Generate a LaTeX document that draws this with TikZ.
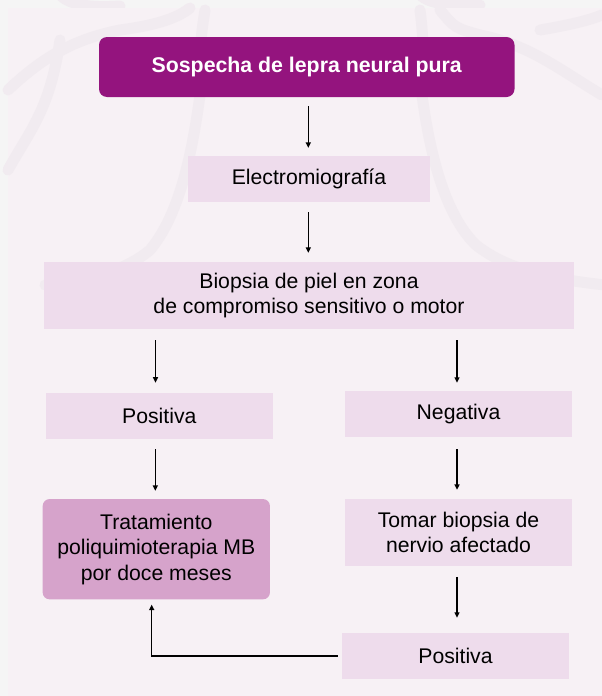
\documentclass[tikz,border=0pt]{standalone}
\usepackage{fontspec}
\setmainfont{Liberation Sans}
\usetikzlibrary{arrows.meta,calc}
\definecolor{outerbg}{RGB}{245,245,245}
\definecolor{panelbg}{RGB}{247,241,245}
\definecolor{wmark}{RGB}{241,235,240}
\definecolor{topfill}{RGB}{148,20,126}
\definecolor{lightbox}{RGB}{238,220,236}
\definecolor{tratfill}{RGB}{214,163,203}
\tikzset{
  stepbox/.style={rectangle, fill=lightbox, inner sep=0pt, align=center,
    font=\fontsize{21.2}{24.5}\selectfont, text=black},
  topbox/.style={rectangle, rounded corners=8pt, fill=topfill, inner sep=0pt,
    align=center, font=\fontsize{21.3}{25}\selectfont\bfseries, text=white},
  tratbox/.style={rectangle, rounded corners=7pt, fill=tratfill, inner sep=0pt,
    align=center, font=\fontsize{21.2}{25.5}\selectfont, text=black},
  arr/.style={line width=1.3pt, draw=black,
    -{Triangle[length=5.5pt,width=5pt]}},
  wm/.style={draw=wmark, line width=11pt, line cap=round}
}
\begin{document}
\begin{tikzpicture}[x=1pt,y=-1pt]
\useasboundingbox (0,0) rectangle (602,696);
\fill[outerbg] (0,0) rectangle (602,696);
% faint watermark outside panel
\draw[wm] (60,-5) .. controls (70,5) and (90,8) .. (120,6);
\draw[wm] (420,-5) .. controls (430,4) and (450,6) .. (480,5);
\fill[panelbg] (8,8) rectangle (602,696);
% faint watermark (stylised tree)
\begin{scope}
\clip (0,0) rectangle (602,696);
\draw[wm] (200,95) .. controls (190,170) and (175,220) .. (150,250) .. controls (120,275) and (80,280) .. (45,285);
\draw[wm] (422,95) .. controls (432,170) and (450,220) .. (476,245) .. controls (510,272) and (560,280) .. (605,285);
\draw[wm] (205,10) .. controls (200,40) and (198,70) .. (200,95);
\draw[wm] (420,10) .. controls (424,40) and (424,70) .. (422,95);
\draw[wm] (8,90) .. controls (40,60) and (70,40) .. (120,30) .. controls (150,26) and (175,20) .. (190,8);
\draw[wm] (602,95) .. controls (560,70) and (530,45) .. (480,35) .. controls (455,28) .. (440,10);
\draw[wm] (8,170) .. controls (30,130) and (50,110) .. (60,40);
\draw[wm] (540,30) .. controls (570,25) and (590,20) .. (602,15);
\end{scope}
% nodes
\node[topbox, minimum width=415.5pt, minimum height=60pt] (top) at (306.75,67) {Sospecha de lepra neural pura};
\node[stepbox, minimum width=242pt, minimum height=45.7pt] (emg) at (309,179) {Electromiografía};
\node[stepbox, minimum width=530pt, minimum height=67pt] (bio) at (309,295.5) {Biopsia de piel en zona\\de compromiso sensitivo o motor};
\node[stepbox, minimum width=227pt, minimum height=46.3pt] (pos1) at (159.3,416) {Positiva};
\node[stepbox, minimum width=227pt, minimum height=46pt] (neg) at (458.5,414) {Negativa};
\node[tratbox, minimum width=227.3pt, minimum height=100.3pt] (trat) at (156.3,549.2) {Tratamiento\\poliquimioterapia MB\\por doce meses};
\node[stepbox, minimum width=227pt, minimum height=66.7pt] (tomar) at (458.5,532.4) {Tomar biopsia de\\nervio afectado};
\node[stepbox, minimum width=227pt, minimum height=46pt] (pos2) at (455.5,656) {Positiva};
% connectors
\draw[arr, shorten <=9pt, shorten >=8pt] ([xshift=-0.7pt]emg.north |- top.south) -- ([xshift=-0.7pt]emg.north);
\draw[arr, shorten <=10pt, shorten >=9pt] ([xshift=-0.7pt]emg.south) -- ([xshift=-0.7pt]emg.south |- bio.north);
\draw[arr, shorten <=11pt, shorten >=10pt] ([xshift=-3.8pt]pos1.north |- bio.south) -- ([xshift=-3.8pt]pos1.north);
\draw[arr, shorten <=11pt, shorten >=8pt] ([xshift=-1.5pt]neg.north |- bio.south) -- ([xshift=-1.5pt]neg.north);
\draw[arr, shorten <=10pt, shorten >=8pt] ([xshift=-4pt]pos1.south) -- ([xshift=-4pt]pos1.south |- trat.north);
\draw[arr, shorten <=12pt, shorten >=9pt] ([xshift=-1.5pt]neg.south) -- ([xshift=-1.5pt]neg.south |- tomar.north);
\draw[arr, shorten <=11pt, shorten >=15pt] ([xshift=-1.5pt]tomar.south) -- ([xshift=-1.5pt]tomar.south |- pos2.north);
\draw[arr, shorten <=4pt, shorten >=5pt] (pos2.west) -| ([xshift=-4.6pt]trat.south);
\end{tikzpicture}
\end{document}
